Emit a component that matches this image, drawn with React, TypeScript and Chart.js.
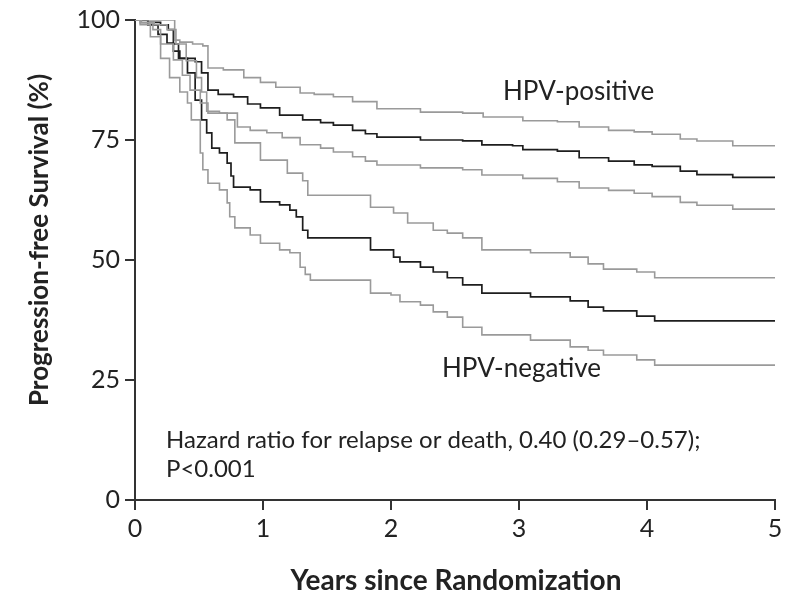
import React, { useEffect, useRef } from "react";
import { Chart, registerables } from "chart.js";

Chart.register(...registerables);

// Years since randomization (event times) and progression-free survival (%)
const posUpperT = [0, 0.31, 0.35, 0.45, 0.53, 0.57, 0.69, 0.85, 0.98, 1.1, 1.29, 1.4, 1.55, 1.7, 1.89, 2.23, 2.56, 2.72, 3.03, 3.3, 3.47, 3.7, 3.9, 4.04, 4.26, 4.39, 4.67, 5.0];
const posUpperS = [100, 95.8, 95.4, 95.0, 94.6, 90.0, 89.6, 88.0, 87.0, 86.0, 84.8, 84.5, 84.0, 83.0, 81.5, 80.8, 80.6, 79.8, 79.0, 78.8, 77.7, 77.0, 76.7, 76.2, 75.2, 74.8, 73.8, 73.8];

const posEstT = [0, 0.1, 0.2, 0.26, 0.3, 0.34, 0.47, 0.52, 0.57, 0.65, 0.77, 0.88, 0.98, 1.13, 1.31, 1.45, 1.55, 1.7, 1.8, 1.89, 2.23, 2.56, 2.71, 2.95, 3.03, 3.3, 3.47, 3.7, 3.9, 4.04, 4.26, 4.39, 4.67, 5.0];
const posEstS = [100, 99.5, 99.0, 98.0, 95.0, 92.0, 91.3, 89.0, 85.4, 84.5, 84.0, 82.5, 81.7, 80.2, 79.2, 78.6, 78.1, 77.0, 76.3, 75.6, 75.0, 74.8, 74.0, 73.8, 73.0, 72.7, 71.3, 70.6, 69.8, 69.5, 68.5, 67.8, 67.2, 67.2];

const posLowerT = [0, 0.05, 0.15, 0.25, 0.32, 0.4, 0.48, 0.52, 0.56, 0.66, 0.8, 0.9, 1.03, 1.15, 1.29, 1.45, 1.55, 1.7, 1.8, 1.89, 2.23, 2.56, 2.71, 3.03, 3.3, 3.47, 3.7, 3.9, 4.04, 4.26, 4.39, 4.67, 5.0];
const posLowerS = [100, 99.5, 99.0, 98.0, 95.0, 91.5, 88.0, 85.0, 81.0, 80.6, 77.7, 77.0, 76.5, 75.5, 74.0, 73.3, 72.5, 71.5, 70.6, 69.8, 69.2, 68.8, 67.7, 67.0, 66.3, 65.0, 64.5, 63.9, 63.2, 62.0, 61.4, 60.6, 60.6];

const negUpperT = [0, 0.04, 0.14, 0.2, 0.3, 0.37, 0.43, 0.51, 0.57, 0.72, 0.78, 0.98, 1.19, 1.31, 1.35, 1.84, 2.02, 2.13, 2.33, 2.44, 2.56, 2.71, 3.09, 3.4, 3.54, 3.66, 3.92, 4.06, 5.0];
const negUpperS = [100, 99.4, 98.0, 95.0, 91.7, 88.5, 85.4, 82.7, 80.6, 79.2, 74.4, 70.8, 68.1, 66.5, 63.5, 61.0, 59.8, 57.7, 56.2, 55.6, 54.6, 52.1, 51.5, 50.6, 49.2, 48.1, 47.5, 46.3, 46.3];

const negEstT = [0, 0.1, 0.18, 0.25, 0.3, 0.35, 0.41, 0.47, 0.52, 0.56, 0.6, 0.66, 0.72, 0.75, 0.77, 0.9, 0.98, 1.13, 1.21, 1.26, 1.31, 1.35, 1.84, 2.02, 2.07, 2.23, 2.33, 2.44, 2.56, 2.71, 3.09, 3.4, 3.54, 3.66, 3.92, 4.06, 5.0];
const negEstS = [100, 99.0, 97.0, 95.2, 93.5, 92.0, 89.0, 83.3, 79.2, 76.5, 73.3, 72.3, 70.2, 67.5, 65.2, 64.6, 62.1, 61.5, 60.4, 59.0, 56.2, 54.6, 52.1, 50.6, 49.6, 48.5, 47.5, 46.3, 44.8, 43.1, 42.3, 41.5, 40.2, 39.4, 38.3, 37.3, 37.3];

const negLowerT = [0, 0.04, 0.12, 0.2, 0.27, 0.35, 0.41, 0.44, 0.51, 0.53, 0.57, 0.66, 0.72, 0.74, 0.78, 0.9, 0.98, 1.13, 1.21, 1.29, 1.33, 1.37, 1.84, 2.0, 2.07, 2.23, 2.33, 2.44, 2.56, 2.71, 3.09, 3.4, 3.54, 3.66, 3.92, 4.06, 5.0];
const negLowerS = [100, 99.0, 96.5, 92.0, 88.0, 85.0, 82.7, 79.2, 72.3, 68.8, 66.0, 64.6, 61.9, 59.0, 56.7, 55.2, 53.5, 52.1, 51.5, 48.5, 47.0, 45.8, 43.1, 42.7, 41.3, 40.6, 39.2, 38.1, 36.0, 34.4, 33.3, 31.9, 31.2, 30.2, 29.2, 28.1, 28.1];

const xTicks = [0, 1, 2, 3, 4, 5];
const yTicks = [0, 25, 50, 75, 100];

const xTitle = "Years since Randomization";
const yTitle = "Progression-free Survival (%)";
const labelPositive = "HPV-positive";
const labelNegative = "HPV-negative";
const hazardLine1 = "Hazard ratio for relapse or death, 0.40 (0.29\u20130.57);";
const hazardLine2 = "P<0.001";

const FONT = "Lato, 'Open Sans', sans-serif";
const TEXT = "#222222";
const AXIS = "#333333";
const GRAY = "#9a9a9a";
const DARK = "#1e1e1e";

const toPoints = (t: number[], s: number[]) => t.map((x, i) => ({ x, y: s[i] }));

export default function App() {
  const ref = useRef<HTMLCanvasElement | null>(null);

  useEffect(() => {
    if (!ref.current) return;

    const textPlugin = {
      id: "annotations",
      afterDraw(chart: any) {
        const ctx = chart.ctx;
        ctx.save();
        ctx.fillStyle = TEXT;
        ctx.textBaseline = "alphabetic";
        ctx.textAlign = "left";
        ctx.font = `26px ${FONT}`;
        ctx.fillText(labelPositive, 503, 100);
        ctx.fillText(labelNegative, 442, 377);
        ctx.font = `24px ${FONT}`;
        ctx.fillText(hazardLine1, 166, 448);
        ctx.fillText(hazardLine2, 166, 477);

        ctx.font = `bold 28px ${FONT}`;
        ctx.textAlign = "center";
        ctx.fillText(xTitle, 456, 590);
        ctx.font = `bold 26px ${FONT}`;
        ctx.translate(48, 240);
        ctx.rotate(-Math.PI / 2);
        ctx.fillText(yTitle, 0, 0);
        ctx.restore();
      },
    };

    const mk = (label: string, t: number[], s: number[], color: string, w: number) => ({
      label,
      data: toPoints(t, s),
      borderColor: color,
      borderWidth: w,
      pointRadius: 0,
      fill: false,
      stepped: true,
    });

    const chart = new Chart(ref.current, {
      type: "line",
      data: {
        datasets: [
          mk("HPV-positive upper", posUpperT, posUpperS, GRAY, 1.6),
          mk("HPV-positive lower", posLowerT, posLowerS, GRAY, 1.6),
          mk("HPV-negative upper", negUpperT, negUpperS, GRAY, 1.6),
          mk("HPV-negative lower", negLowerT, negLowerS, GRAY, 1.6),
          mk("HPV-positive", posEstT, posEstS, DARK, 1.7),
          mk("HPV-negative", negEstT, negEstS, DARK, 1.7),
        ],
      },
      plugins: [textPlugin],
      options: {
        animation: false,
        responsive: false,
        maintainAspectRatio: false,
        layout: { padding: { left: 0, top: 20, right: 23, bottom: 0 } },
        plugins: { legend: { display: false }, tooltip: { enabled: false } },
        scales: {
          x: {
            type: "linear",
            min: 0,
            max: 5,
            afterBuildTicks: (scale: any) => {
              scale.ticks = xTicks.map((v) => ({ value: v }));
            },
            afterFit: (scale: any) => {
              scale.height = 98;
            },
            ticks: {
              color: TEXT,
              font: { family: FONT, size: 25 },
              padding: 4,
              maxRotation: 0,
              autoSkip: false,
            },
            grid: { drawOnChartArea: false, drawTicks: true, tickLength: 10, color: AXIS, lineWidth: 2 },
            border: { display: true, color: AXIS, width: 2 },
          },
          y: {
            type: "linear",
            min: 0,
            max: 100,
            afterBuildTicks: (scale: any) => {
              scale.ticks = yTicks.map((v) => ({ value: v }));
            },
            afterFit: (scale: any) => {
              scale.width = 135;
            },
            ticks: {
              color: TEXT,
              font: { family: FONT, size: 25 },
              padding: 5,
              autoSkip: false,
            },
            grid: { drawOnChartArea: false, drawTicks: true, tickLength: 10, color: AXIS, lineWidth: 2 },
            border: { display: true, color: AXIS, width: 2 },
          },
        },
      },
    });

    return () => chart.destroy();
  }, []);

  return (
    <div style={{ position: "absolute", left: 0, top: 0, width: 798, height: 598, background: "#ffffff" }}>
      <canvas ref={ref} width={798} height={598} style={{ width: 798, height: 598, display: "block" }} />
    </div>
  );
}
